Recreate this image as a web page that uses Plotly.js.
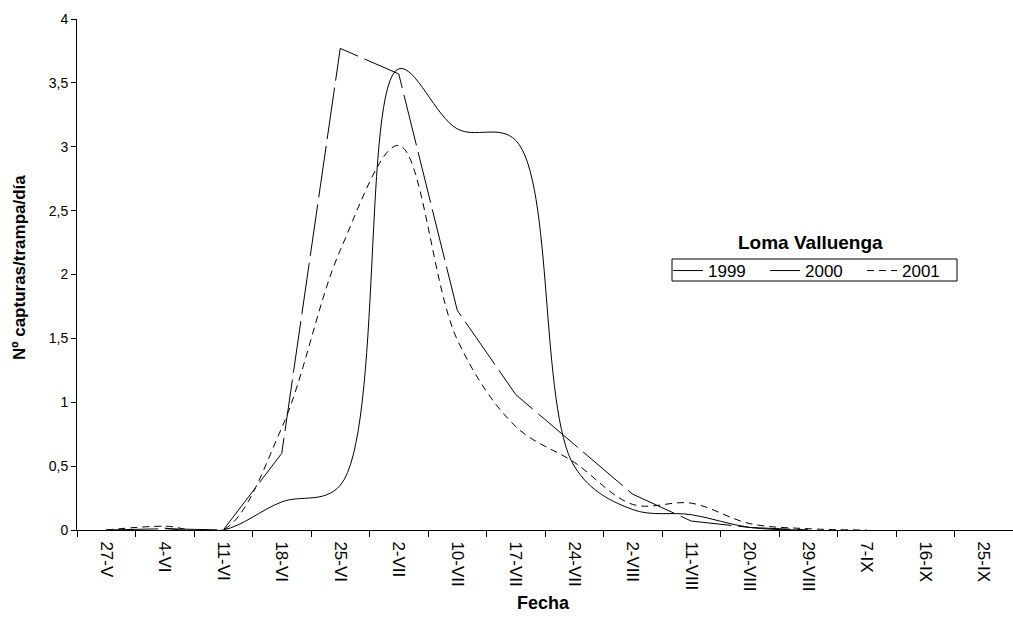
<!DOCTYPE html>
<html>
<head>
<meta charset="utf-8">
<script src="https://cdn.plot.ly/plotly-3.0.1.min.js"></script>
<style>html,body{margin:0;padding:0;background:#fff;}#chart{width:1013px;height:623px;}</style>
</head>
<body>
<div id="chart"></div>
<script>
const categories = ['27-V','4-VI','11-VI','18-VI','25-VI','2-VII','10-VII','17-VII','24-VII','2-VIII','11-VIII','20-VIII','29-VIII','7-IX','16-IX','25-IX'];
const y1999 = [0, 0.01, 0, 0.6, 3.77, 3.57, 1.72, 1.06, 0.67, 0.28, 0.07, 0.02, 0.0, null, null, null];
const y2000 = [null, 0.015, 0, 0.22, 0.35, 3.61, 3.14, 3.05, 0.5, 0.16, 0.12, 0.02, 0.0, null, null, null];
const y2001 = [0, 0.03, 0, 0.8, 2.19, 3.01, 1.49, 0.81, 0.53, 0.2, 0.21, 0.05, 0.01, 0, null, null];
const seriesNames = ['1999', '2000', '2001'];
const legendTitle = 'Loma Valluenga';
const xTitle = 'Fecha';
const yTitle = 'Nº capturas/trampa/día';

const FONT = 'Liberation Sans, Arial, sans-serif';

// plot area in pixels: x 77..1013, y 19..530
const L = 77, R = 1013, T = 19, B = 530;
const px2x = p => (p - L) / (R - L);
const px2y = p => (B - p) / (B - T);

const traces = [
  {x: categories, y: y1999, name: seriesNames[0], type: 'scatter', mode: 'lines',
   line: {color: '#000', width: 1, dash: '52px,7px', shape: 'linear'}, connectgaps: false},
  {x: categories, y: y2000, name: seriesNames[1], type: 'scatter', mode: 'lines',
   line: {color: '#000', width: 1, shape: 'spline', smoothing: 1}, connectgaps: false},
  {x: categories, y: y2001, name: seriesNames[2], type: 'scatter', mode: 'lines',
   line: {color: '#000', width: 1, dash: '7px,5px', shape: 'spline', smoothing: 1}, connectgaps: false}
];

const layout = {
  width: 1013, height: 623,
  margin: {l: L, r: 1013 - R, t: T, b: 623 - B, pad: 0},
  paper_bgcolor: '#fff', plot_bgcolor: '#fff',
  separators: ', ',
  font: {family: FONT, color: '#000', size: 14},
  showlegend: true,
  xaxis: {
    type: 'category', range: [-0.5, 15.5], tickson: 'boundaries',
    ticks: 'outside', ticklen: 6, tickcolor: '#000', tickwidth: 1,
    showline: true, linecolor: '#000', linewidth: 1,
    showgrid: false, zeroline: false, tickangle: 90,
    ticklabelstandoff: 7,
    tickfont: {family: FONT, size: 17, color: '#000'},
    fixedrange: true
  },
  yaxis: {
    range: [0, 4], dtick: 0.5, tick0: 0,
    ticks: 'outside', ticklen: 5, tickcolor: '#000', tickwidth: 1,
    showline: true, linecolor: '#000', linewidth: 1,
    showgrid: false, zeroline: false,
    tickfont: {family: FONT, size: 14, color: '#000'},
    fixedrange: true
  },
  legend: {
    orientation: 'h', x: px2x(668), y: px2y(271), xanchor: 'left', yanchor: 'middle',
    borderwidth: 0, bgcolor: 'rgba(0,0,0,0)',
    font: {family: FONT, size: 17, color: '#000'},
    entrywidth: 52, entrywidthmode: 'pixels', tracegroupgap: 0
  },
  shapes: [
    {type: 'rect', xref: 'paper', yref: 'paper', x0: px2x(672), x1: px2x(957), y0: px2y(281), y1: px2y(259),
     line: {color: '#000', width: 1}, fillcolor: 'rgba(0,0,0,0)', layer: 'above'}
  ],
  annotations: [
    {text: '<b>' + legendTitle + '</b>', xref: 'paper', yref: 'paper', x: px2x(810), y: px2y(242),
     xanchor: 'center', yanchor: 'middle', showarrow: false,
     font: {family: FONT, size: 19, color: '#000'}},
    {text: '<b>' + xTitle + '</b>', xref: 'paper', yref: 'paper', x: px2x(543), y: px2y(603),
     xanchor: 'center', yanchor: 'middle', showarrow: false,
     font: {family: FONT, size: 18, color: '#000'}},
    {text: '<b>' + yTitle + '</b>', xref: 'paper', yref: 'paper', x: px2x(19), y: px2y(268),
     xanchor: 'center', yanchor: 'middle', showarrow: false, textangle: -90,
     font: {family: FONT, size: 17, color: '#000'}}
  ]
};

Plotly.newPlot('chart', traces, layout, {displayModeBar: false, staticPlot: true});
</script>
</body>
</html>
